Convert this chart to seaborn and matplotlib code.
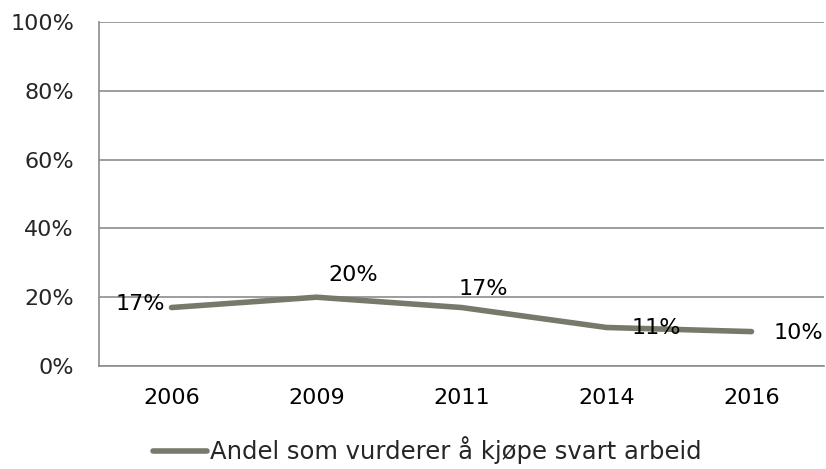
import numpy as np
import pandas as pd
import matplotlib
matplotlib.use("Agg")
import matplotlib.pyplot as plt
import seaborn as sns

years = ["2006", "2009", "2011", "2014", "2016"]
andel = [0.17, 0.20, 0.17, 0.112, 0.10]
labels = ["17%", "20%", "17%", "11%", "10%"]
series_name = "Andel som vurderer å kjøpe svart arbeid"

df = pd.DataFrame({"x": np.arange(len(years)), "andel": andel})

sns.set_style("white")
plt.rcParams["font.family"] = ["DejaVu Sans"]

line_color = "#767a6a"
grid_color = "#8c8c8c"
fs = 16

fig = plt.figure(figsize=(8.26, 4.69), dpi=100)
ax = fig.add_axes([0.1199, 0.2196, 0.8777, 0.7335])

sns.lineplot(data=df, x="x", y="andel", ax=ax, color=line_color, linewidth=4,
             label=series_name, solid_capstyle="round")

# grid and axes
ax.set_ylim(0, 1)
ax.set_xlim(-0.5, len(years) - 0.5)
ax.set_yticks(np.arange(0, 1.01, 0.2))
ax.set_yticklabels([f"{int(round(v*100))}%" for v in np.arange(0, 1.01, 0.2)])
ax.set_xticks(np.arange(len(years)))
ax.set_xticklabels(years)
ax.set_xticks(np.arange(-0.5, len(years)), minor=True)
ax.tick_params(axis="x", which="major", length=0, pad=16, labelsize=fs, colors="black")
ax.tick_params(axis="x", which="minor", length=6, width=1.2, color=grid_color, direction="out")
ax.tick_params(axis="y", length=6, width=1.2, color=grid_color, direction="out", labelsize=fs, pad=12)
ax.yaxis.grid(True, color=grid_color, linewidth=1.2)
ax.set_axisbelow(True)
for s in ["top", "right"]:
    ax.spines[s].set_visible(False)
for s in ["left", "bottom"]:
    ax.spines[s].set_color(grid_color)
    ax.spines[s].set_linewidth(1.2)
ax.set_xlabel("")
ax.set_ylabel("")

# data labels (offsets in pixels)
offsets = [(-31, 4), (37, 22), (22, 19), (50, -1), (47, -1)]
for i, (v, lab) in enumerate(zip(andel, labels)):
    ax.annotate(lab, (i, v), xytext=offsets[i], textcoords="offset pixels",
                ha="center", va="center", fontsize=fs, color="black")

leg = ax.legend(loc="center", bbox_to_anchor=(0.453, -0.245), frameon=False,
                fontsize=17.5, handlelength=2.2, handletextpad=0.15)

fig.savefig("out.png", dpi=100)
